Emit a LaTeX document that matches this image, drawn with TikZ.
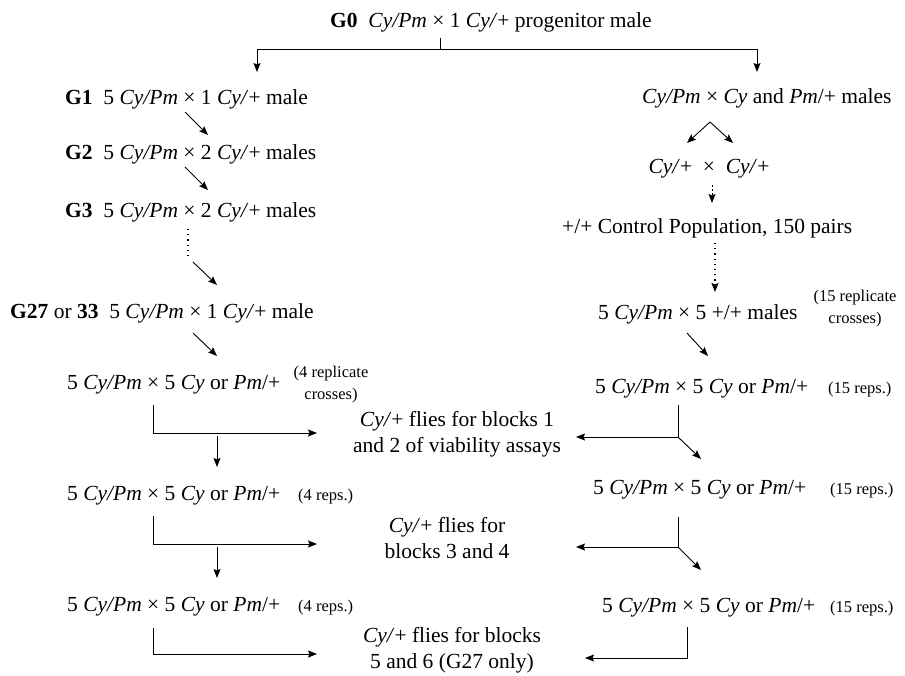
\documentclass[tikz,border=0pt]{standalone}
\usepackage{fontspec}
\setmainfont{Liberation Serif}
\usetikzlibrary{arrows.meta}
\newcommand{\CyPm}{\textit{Cy/Pm}}
\newcommand{\Cyp}{\textit{Cy/}+}
\begin{document}
\begin{tikzpicture}[x=1pt,y=-1pt,
  txt/.style={inner sep=0pt, font=\fontsize{21.5}{25.5}\selectfont},
  sm/.style={inner sep=0pt, font=\fontsize{16.5}{21.5}\selectfont, align=center},
  ctr/.style={txt, align=center},
  conn/.style={line width=0.9pt, -{Stealth[length=9pt,width=7pt,inset=1.5pt]}},
  plain/.style={line width=0.9pt},
  dotln/.style={line width=1.1pt, dash pattern=on 1.2pt off 4pt},
  dashln/.style={line width=0.9pt, dash pattern=on 2pt off 2pt},
]
\useasboundingbox (0,0) rectangle (905,675);

% ---- text nodes (multi-line nodes: base = last line's baseline) ----
\node[txt, anchor=base west] (g0) at (330,27) {\textbf{G0}\ \ \CyPm{} × 1 \Cyp{} progenitor male};
\node[txt, anchor=base west] (g1) at (65,104) {\textbf{G1}\ \ 5 \CyPm{} × 1 \Cyp{} male};
\node[txt, anchor=base west] (g2) at (65,159) {\textbf{G2}\ \ 5 \CyPm{} × 2 \Cyp{} males};
\node[txt, anchor=base west] (g3) at (65,217) {\textbf{G3}\ \ 5 \CyPm{} × 2 \Cyp{} males};
\node[txt, anchor=base west] (g27) at (10,318) {\textbf{G27} or \textbf{33}\ \ 5 \CyPm{} × 1 \Cyp{} male};

\node[txt, anchor=base west] (l1) at (67,389) {5 \CyPm{} × 5 \textit{Cy} or \textit{Pm}/+};
\node[sm, anchor=base] (l1n) at (331,399) {(4 replicate\\crosses)};
\node[txt, anchor=base west] (l2) at (67,500) {5 \CyPm{} × 5 \textit{Cy} or \textit{Pm}/+};
\node[sm, anchor=base west] (l2n) at (298,500) {(4 reps.)};
\node[txt, anchor=base west] (l3) at (67,611) {5 \CyPm{} × 5 \textit{Cy} or \textit{Pm}/+};
\node[sm, anchor=base west] (l3n) at (298,611) {(4 reps.)};

\node[ctr, anchor=base] (c1) at (457,452) {\Cyp{} flies for blocks 1\\and 2 of viability assays};
\node[ctr, anchor=base] (c2) at (447,558) {\Cyp{} flies for\\blocks 3 and 4};
\node[ctr, anchor=base] (c3) at (452,668) {\Cyp{} flies for blocks\\5 and 6 (G27 only)};

\node[txt, anchor=base west] (r0) at (642,103) {\CyPm{} × \textit{Cy} and \textit{Pm}/+ males};
\node[txt, anchor=base] (rc) at (709,173) {\Cyp{}\hspace{0.5em}×\hspace{0.5em}\Cyp{}};
\node[txt, anchor=base west] (rpop) at (562,233) {+/+ Control Population, 150 pairs};
\node[txt, anchor=base west] (r4) at (598,319) {5 \CyPm{} × 5 +/+ males};
\node[sm, anchor=base] (r4n) at (855,323) {(15 replicate\\crosses)};
\node[txt, anchor=base west] (r5) at (595,393) {5 \CyPm{} × 5 \textit{Cy} or \textit{Pm}/+};
\node[sm, anchor=base west] (r5n) at (828,393) {(15 reps.)};
\node[txt, anchor=base west] (r6) at (593,494) {5 \CyPm{} × 5 \textit{Cy} or \textit{Pm}/+};
\node[sm, anchor=base west] (r6n) at (830,494) {(15 reps.)};
\node[txt, anchor=base west] (r7) at (602,612) {5 \CyPm{} × 5 \textit{Cy} or \textit{Pm}/+};
\node[sm, anchor=base west] (r7n) at (830,612) {(15 reps.)};

% ---- connector points ----
\coordinate (s0) at (440,38);
\coordinate (j0) at (440,49);
\coordinate (jl) at (257,49);
\coordinate (jr) at (757,49);
\coordinate (tl) at (257,72);
\coordinate (tr) at (757,72);

\coordinate (a1s) at (185,112); \coordinate (a1e) at (208,135);
\coordinate (a2s) at (185,167); \coordinate (a2e) at (208,190);
\coordinate (d1s) at (188,229); \coordinate (d1e) at (188,256);
\coordinate (a3s) at (193,262); \coordinate (a3e) at (217,285);
\coordinate (a4s) at (193,333); \coordinate (a4e) at (217,356);

\coordinate (b1t) at (153,405); \coordinate (b1c) at (153,433); \coordinate (b1e) at (317,433);
\coordinate (v1s) at (217,436); \coordinate (v1e) at (217,467);
\coordinate (b2t) at (153,516); \coordinate (b2c) at (153,544); \coordinate (b2e) at (317,544);
\coordinate (v2s) at (217,547); \coordinate (v2e) at (217,578);
\coordinate (b3t) at (153,628); \coordinate (b3c) at (153,654); \coordinate (b3e) at (317,654);

\coordinate (apex) at (710,122); \coordinate (apl) at (687,143); \coordinate (apr) at (733,143);
\coordinate (q1s) at (712,185); \coordinate (q1e) at (712,203);
\coordinate (q2s) at (715,243); \coordinate (q2e) at (715,292);
\coordinate (a5s) at (687,333); \coordinate (a5e) at (708,356);

\coordinate (rb1t) at (678,405); \coordinate (rb1c) at (678,437);
\coordinate (rb1l) at (576,437); \coordinate (rb1d) at (701,459);
\coordinate (rb2t) at (678,517); \coordinate (rb2c) at (678,547);
\coordinate (rb2l) at (576,547); \coordinate (rb2d) at (701,570);
\coordinate (rb3t) at (687,627); \coordinate (rb3c) at (687,658);
\coordinate (rb3l) at (585,658);

% ---- connectors ----
\draw[plain] (s0) -- (j0);
\draw[conn] (j0) -- (jl) -- (tl);
\draw[conn] (j0) -- (jr) -- (tr);

\draw[conn] (a1s) -- (a1e);
\draw[conn] (a2s) -- (a2e);
\draw[dotln] (d1s) -- (d1e);
\draw[conn] (a3s) -- (a3e);
\draw[conn] (a4s) -- (a4e);

\draw[conn] (b1t) -- (b1c) -- (b1e);
\draw[conn] (v1s) -- (v1e);
\draw[conn] (b2t) -- (b2c) -- (b2e);
\draw[conn] (v2s) -- (v2e);
\draw[conn] (b3t) -- (b3c) -- (b3e);

\draw[conn] (apex) -- (apl);
\draw[conn] (apex) -- (apr);
\draw[conn, dashln] (q1s) -- (q1e);
\draw[conn, dotln] (q2s) -- (q2e);
\draw[conn] (a5s) -- (a5e);

\draw[plain] (rb1t) -- (rb1c);
\draw[conn] (rb1c) -- (rb1l);
\draw[conn] (rb1c) -- (rb1d);
\draw[plain] (rb2t) -- (rb2c);
\draw[conn] (rb2c) -- (rb2l);
\draw[conn] (rb2c) -- (rb2d);
\draw[conn] (rb3t) -- (rb3c) -- (rb3l);
\end{tikzpicture}
\end{document}
